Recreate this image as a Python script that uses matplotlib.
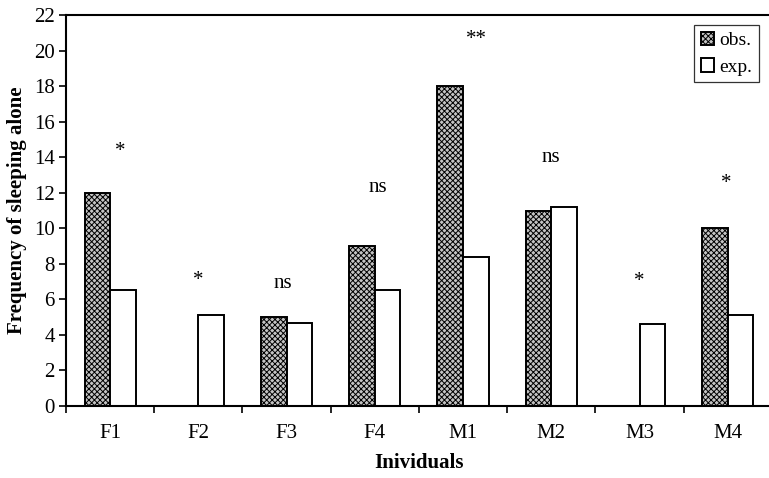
import numpy as np
import matplotlib
matplotlib.use("Agg")
import matplotlib.pyplot as plt

individuals = ['F1', 'F2', 'F3', 'F4', 'M1', 'M2', 'M3', 'M4']
observed = [12, 0, 5, 9, 18, 11, 0, 10]
expected = [6.5, 5.1, 4.65, 6.5, 8.4, 11.2, 4.6, 5.1]
signif = ['*', '*', 'ns', 'ns', '**', 'ns', '*', '*']
signif_y = [14.3, 7.05, 6.9, 12.3, 20.6, 14.0, 7.0, 12.5]
signif_dx = [0.11, 0.0, -0.04, 0.03, 0.15, 0.0, 0.0, -0.02]

plt.rcParams['font.family'] = ['Liberation Serif', 'DejaVu Serif']
plt.rcParams['hatch.color'] = '#333333'
plt.rcParams['hatch.linewidth'] = 0.7

fig = plt.figure(figsize=(7.69, 4.78), dpi=100)
ax = fig.add_axes([0.0858, 0.1506, 0.918, 0.818])

x = np.arange(len(individuals))
w = 0.29
ax.bar(x - w / 2, observed, w, facecolor='#c4c4c4', edgecolor='black',
       linewidth=1.4, hatch='xxxxxx', label='obs.')
ax.bar(x + w / 2, expected, w, facecolor='white', edgecolor='black',
       linewidth=1.4, label='exp.')

for xi, s, sy, dx in zip(x, signif, signif_y, signif_dx):
    ax.text(xi + dx, sy, s, ha='center', va='center', fontsize=15)

ax.set_xlim(-0.5, 7.5)
ax.set_ylim(0, 22)
ax.set_yticks(range(0, 23, 2))
ax.set_xticks(np.arange(-0.5, 7.6, 1))
ax.set_xticklabels([])
ax.set_xticks(x, minor=True)
ax.set_xticklabels(individuals, minor=True)
ax.tick_params(axis='x', which='minor', length=0, pad=13, labelsize=15)
ax.tick_params(axis='x', which='major', direction='out', length=5, width=1.2)
ax.tick_params(axis='y', direction='out', length=5, width=1.2, labelsize=15, pad=3)

ax.spines['right'].set_visible(False)
for side in ['left', 'bottom', 'top']:
    ax.spines[side].set_linewidth(1.5)

ax.set_ylabel('Frequency of sleeping alone', fontsize=15, fontweight='bold', labelpad=5)
ax.set_xlabel('Inividuals', fontsize=15, fontweight='bold', labelpad=7)

leg = ax.legend(loc='upper right', bbox_to_anchor=(0.987, 0.985), fontsize=14,
                frameon=True, fancybox=False, edgecolor='black',
                handlelength=0.7, handleheight=0.7, handletextpad=0.25,
                borderpad=0.35, labelspacing=0.45, borderaxespad=0.2)
leg.get_frame().set_linewidth(0.9)

fig.savefig('out.png', dpi=100)
